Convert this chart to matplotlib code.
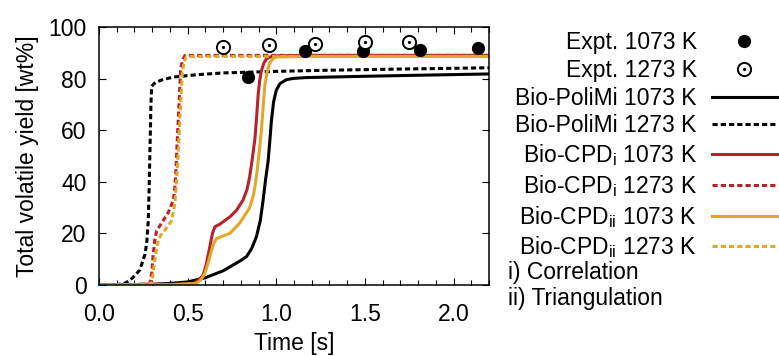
import matplotlib
matplotlib.use("Agg")
import matplotlib.pyplot as plt
from matplotlib.lines import Line2D
from matplotlib.legend_handler import HandlerTuple

plt.rcParams['font.family'] = ['Liberation Sans', 'DejaVu Sans']
plt.rcParams['mathtext.fontset'] = 'custom'
plt.rcParams['mathtext.rm'] = 'Liberation Sans'
plt.rcParams['mathtext.it'] = 'Liberation Sans'

RED = '#b8232b'
GOLD = '#e0a82a'

# experimental points
expt_1073_t = [0.84, 1.16, 1.49, 1.81, 2.14]
expt_1073_y = [80.8, 90.7, 90.8, 91.0, 92.0]
expt_1273_t = [0.70, 0.96, 1.22, 1.50, 1.75]
expt_1273_y = [92.4, 92.9, 93.4, 94.0, 94.1]

# Bio-PoliMi
poli_1073_t = [0.0, 0.3, 0.4, 0.5, 0.6, 0.7, 0.8, 0.832, 0.86, 0.888, 0.91, 0.926, 0.94, 0.954,
               0.965, 0.973, 0.985, 1.0, 1.02, 1.057, 1.1, 1.17, 1.5, 1.8, 2.2]
poli_1073_y = [0.0, 0.3, 0.6, 1.2, 2.8, 5.5, 9.5, 11.0, 14.0, 18.7, 25.0, 33.0, 41.0, 48.0,
               57.0, 64.0, 71.0, 75.5, 78.0, 79.6, 80.1, 80.4, 80.9, 81.3, 81.8]
poli_1273_t = [0.0, 0.1, 0.15, 0.175, 0.2, 0.23, 0.26, 0.27, 0.278, 0.283, 0.287, 0.293, 0.297,
               0.31, 0.325, 0.36, 0.42, 0.55, 0.70, 1.0, 1.26, 1.7, 2.2]
poli_1273_y = [0.0, 0.1, 0.8, 1.9, 3.5, 5.8, 12.0, 17.0, 25.0, 38.0, 51.0, 70.0, 77.0,
               78.0, 78.7, 79.6, 80.6, 81.5, 82.2, 82.8, 83.2, 83.7, 84.2]

# Bio-CPD i) correlation
cpdi_1073_t = [0.0, 0.4, 0.53, 0.56, 0.588, 0.605, 0.625, 0.64, 0.654, 0.68, 0.70, 0.74, 0.776,
               0.813, 0.835, 0.85, 0.865, 0.88, 0.89, 0.898, 0.907, 0.916, 0.93, 0.945, 0.98, 1.2, 2.2]
cpdi_1073_y = [0.0, 0.1, 0.6, 1.8, 3.9, 8.0, 14.8, 20.0, 22.6, 23.5, 24.5, 26.5, 29.0,
               33.0, 37.0, 42.0, 49.0, 57.0, 66.0, 74.0, 79.5, 83.0, 86.0, 87.7, 88.8, 89.0, 89.0]
cpdi_1273_t = [0.0, 0.2, 0.287, 0.298, 0.306, 0.315, 0.325, 0.353, 0.39, 0.42, 0.428, 0.434,
               0.44, 0.447, 0.454, 0.46, 0.47, 0.485, 0.5, 1.0, 2.2]
cpdi_1273_y = [0.0, 0.1, 0.6, 5.0, 12.0, 17.5, 21.0, 24.0, 28.0, 33.0, 38.0, 44.5,
               54.0, 64.0, 74.0, 83.0, 87.0, 89.0, 89.0, 89.0, 89.0]

# Bio-CPD ii) triangulation
cpdii_1073_t = [0.0, 0.4, 0.55, 0.575, 0.597, 0.615, 0.635, 0.65, 0.663, 0.70, 0.738, 0.794,
                0.85, 0.872, 0.888, 0.903, 0.916, 0.926, 0.935, 0.948, 0.963, 0.98, 1.0, 1.2, 2.2]
cpdii_1073_y = [0.0, 0.1, 0.6, 2.0, 4.5, 8.5, 13.5, 16.5, 18.0, 19.0, 20.0, 24.0,
                30.0, 35.0, 42.0, 51.0, 60.0, 69.0, 77.0, 82.5, 86.0, 87.6, 88.4, 88.6, 88.6]
cpdii_1273_t = [0.0, 0.2, 0.297, 0.306, 0.315, 0.325, 0.334, 0.35, 0.372, 0.41, 0.428, 0.435,
                0.441, 0.449, 0.456, 0.463, 0.47, 0.48, 0.494, 0.52, 1.0, 2.2]
cpdii_1273_y = [0.0, 0.1, 0.6, 5.0, 9.7, 14.0, 17.4, 19.5, 21.3, 25.0, 31.6, 38.0,
                44.5, 54.0, 64.0, 73.0, 82.0, 86.5, 88.6, 88.6, 88.6, 88.6]

lw = 2.2
dash = (0, (1.7, 1.0))
FS = 16.5

fig = plt.figure(figsize=(7.79, 3.56), dpi=100)
ax = fig.add_axes([99 / 779, 1 - 285 / 356, 390 / 779, 258 / 356])

ax.plot(poli_1073_t, poli_1073_y, color='black', lw=lw)
ax.plot(poli_1273_t, poli_1273_y, color='black', lw=lw, ls=dash)
ax.plot(cpdi_1073_t, cpdi_1073_y, color=RED, lw=lw)
ax.plot(cpdi_1273_t, cpdi_1273_y, color=RED, lw=lw, ls=dash)
ax.plot(cpdii_1073_t, cpdii_1073_y, color=GOLD, lw=lw)
ax.plot(cpdii_1273_t, cpdii_1273_y, color=GOLD, lw=lw, ls=dash)

ax.plot(expt_1073_t, expt_1073_y, 'o', color='black', ms=8.5, zorder=5)
ax.plot(expt_1273_t, expt_1273_y, 'o', mfc='white', mec='black', mew=1.4, ms=9.5, zorder=5)
ax.plot(expt_1273_t, expt_1273_y, 'o', color='black', ms=1.3, zorder=6)

ax.set_xlim(0, 2.2)
ax.set_ylim(0, 100)
ax.set_xticks([0, 0.5, 1.0, 1.5, 2.0])
ax.set_xticks([i / 10 for i in range(23)], minor=True)
ax.set_yticks([0, 20, 40, 60, 80, 100])
ax.set_xticklabels(['0.0', '0.5', '1.0', '1.5', '2.0'])
ax.tick_params(which='both', direction='in', top=True, right=True, width=0.8, labelsize=FS)
ax.tick_params(which='major', length=5)
ax.tick_params(which='minor', length=3.5)
ax.tick_params(axis='x', pad=13)
ax.tick_params(axis='y', pad=9)
for s in ax.spines.values():
    s.set_linewidth(1.1)

ax.set_xlabel('Time [s]', fontsize=FS, labelpad=4)
ax.set_ylabel('Total volatile yield [wt%]', fontsize=FS, labelpad=7)

# legend
h_e1 = Line2D([], [], ls='none', marker='o', color='black', ms=8.5)
h_e2a = Line2D([], [], ls='none', marker='o', mfc='white', mec='black', mew=1.4, ms=9.5)
h_e2b = Line2D([], [], ls='none', marker='o', color='black', ms=1.3)
handles = [h_e1, (h_e2a, h_e2b),
           Line2D([], [], color='black', lw=lw),
           Line2D([], [], color='black', lw=lw, ls=dash),
           Line2D([], [], color=RED, lw=lw),
           Line2D([], [], color=RED, lw=lw, ls=dash),
           Line2D([], [], color=GOLD, lw=lw),
           Line2D([], [], color=GOLD, lw=lw, ls=dash)]
labels = ['Expt. 1073 K', 'Expt. 1273 K',
          'Bio-PoliMi 1073 K', 'Bio-PoliMi 1273 K',
          r'Bio-CPD$_\mathregular{i}$ 1073 K', r'Bio-CPD$_\mathregular{i}$ 1273 K',
          r'Bio-CPD$_\mathregular{ii}$ 1073 K', r'Bio-CPD$_\mathregular{ii}$ 1273 K']
fig.legend(handles, labels, loc='upper right', bbox_to_anchor=(777 / 779, 1 - 31 / 356),
           frameon=False, markerfirst=False, fontsize=FS, handlelength=2.85,
           handletextpad=0.65, labelspacing=0.21, borderpad=0, borderaxespad=0,
           handler_map={tuple: HandlerTuple(ndivide=1, pad=0)})

fig.text(508 / 779, 1 - 272 / 356, 'i) Correlation', fontsize=FS, ha='left', va='center')
fig.text(508 / 779, 1 - 299 / 356, 'ii) Triangulation', fontsize=FS, ha='left', va='center')

fig.savefig('out.png', dpi=100)
